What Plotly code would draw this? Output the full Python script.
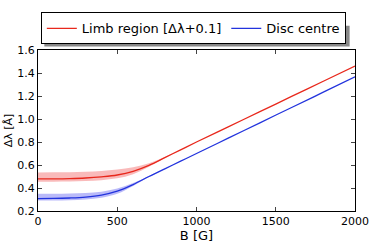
import plotly.graph_objects as go

B = [0, 100, 200, 300, 400, 500, 600, 700, 800, 900, 1000, 1200, 1400, 1600, 1800, 2000]

limb = [0.480, 0.480, 0.482, 0.487, 0.497, 0.513, 0.545, 0.597, 0.664, 0.732, 0.800, 0.932, 1.064, 1.196, 1.328, 1.460]
limb_hi = [0.535, 0.536, 0.538, 0.542, 0.548, 0.560, 0.580, 0.615, 0.670, 0.734, 0.801, 0.932, 1.064, 1.196, 1.328, 1.460]
limb_lo = [0.455, 0.455, 0.456, 0.460, 0.468, 0.484, 0.520, 0.585, 0.660, 0.730, 0.799, 0.932, 1.064, 1.196, 1.328, 1.460]

disc = [0.308, 0.309, 0.313, 0.321, 0.338, 0.372, 0.430, 0.500, 0.567, 0.633, 0.700, 0.833, 0.967, 1.100, 1.233, 1.367]
disc_hi = [0.350, 0.350, 0.352, 0.357, 0.368, 0.395, 0.443, 0.505, 0.568, 0.634, 0.701, 0.833, 0.967, 1.100, 1.233, 1.367]
disc_lo = [0.292, 0.292, 0.294, 0.300, 0.315, 0.350, 0.418, 0.495, 0.566, 0.632, 0.699, 0.833, 0.967, 1.100, 1.233, 1.367]

x_ticks = [0, 500, 1000, 1500, 2000]
y_ticks = [0.2, 0.4, 0.6, 0.8, 1.0, 1.2, 1.4, 1.6]

RED = "#e8281c"
BLUE = "#2233dd"
RED_BAND = "rgba(245,140,140,0.6)"
BLUE_BAND = "rgba(140,140,245,0.6)"

fig = go.Figure()

def band(lo, hi, color):
    fig.add_trace(go.Scatter(x=B, y=lo, mode="lines", line=dict(width=0, shape="spline"),
                             showlegend=False, hoverinfo="skip"))
    fig.add_trace(go.Scatter(x=B, y=hi, mode="lines", line=dict(width=0, shape="spline"),
                             fill="tonexty", fillcolor=color, showlegend=False, hoverinfo="skip"))

band(limb_lo, limb_hi, RED_BAND)
band(disc_lo, disc_hi, BLUE_BAND)

fig.add_trace(go.Scatter(x=B, y=limb, mode="lines", name="Limb region [Δλ+0.1]",
                         line=dict(color=RED, width=1.3, shape="spline")))
fig.add_trace(go.Scatter(x=B, y=disc, mode="lines", name="Disc centre",
                         line=dict(color=BLUE, width=1.3, shape="spline")))

font = "DejaVu Sans"
fig.update_layout(
    width=374, height=249,
    margin=dict(l=38, r=19, t=37, b=38),
    paper_bgcolor="white", plot_bgcolor="white",
    font=dict(family=font, size=11, color="black"),
    legend=dict(orientation="h", x=0.49, xanchor="center", y=1.035, yanchor="bottom",
                traceorder="normal",
                bordercolor="black", borderwidth=1, bgcolor="white",
                font=dict(size=13), itemwidth=30),
    showlegend=True,
)
# legend drop shadow
fig.add_shape(type="rect", xref="paper", yref="paper",
              x0=0.02, x1=0.983, y0=1.022, y1=1.15,
              fillcolor="#888888", line=dict(width=0), layer="below")
fig.update_xaxes(range=[0, 2000], tickvals=x_ticks, ticks="inside", ticklen=4,
                 showline=True, linecolor="black", linewidth=1, mirror="ticks",
                 showgrid=False, zeroline=False, automargin=False,
                 title=dict(text="B [G]", standoff=2))
fig.update_yaxes(range=[0.2, 1.6], tickvals=y_ticks, tickformat=".1f", ticks="inside", ticklen=4,
                 showline=True, linecolor="black", linewidth=1, mirror="ticks",
                 showgrid=False, zeroline=False, automargin=False,
                 title=dict(text="Δλ [Å]", standoff=2, font=dict(size=11)))

fig.write_html("out.html", post_script="document.body.style.margin='0px';",
               config={"displayModeBar": False})
